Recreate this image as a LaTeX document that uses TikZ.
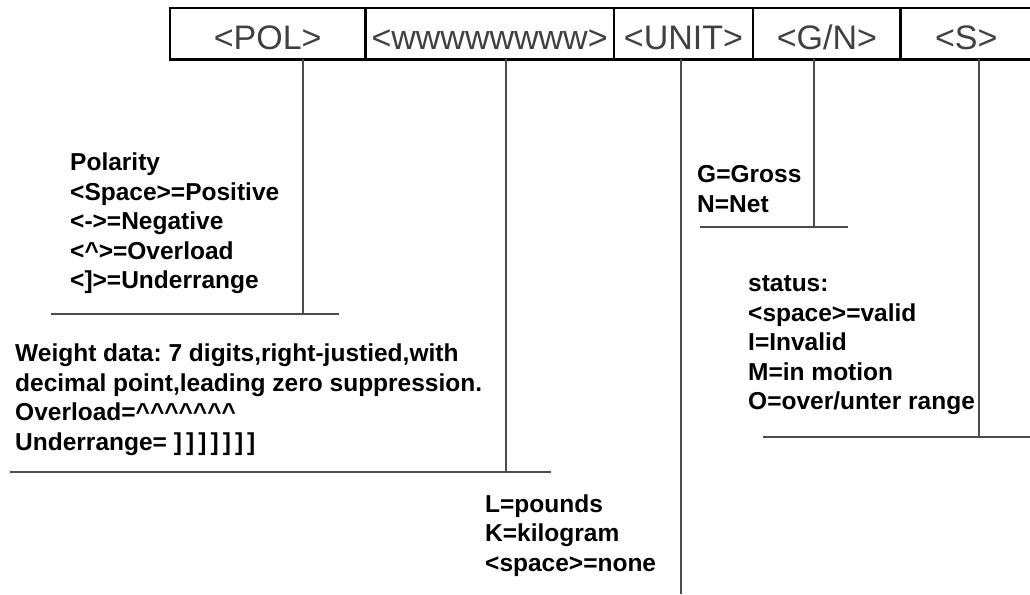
\documentclass[tikz,border=0pt]{standalone}
\usepackage{fontspec}
\setmainfont{Liberation Sans}
\usetikzlibrary{positioning}
\frenchspacing

\begin{document}
\begin{tikzpicture}[
    x=1pt, y=-1pt,
    field/.style={rectangle, inner sep=0pt, minimum height=51pt, text height=32pt, text depth=0pt, text=black!75, font=\fontsize{34}{40}\selectfont},
    note/.style={anchor=north west, inner sep=0pt, align=left, font=\bfseries\fontsize{24.5}{29.5}\selectfont},
    frame/.style={line width=2.5pt, black},
    link/.style={line width=2pt, black!70}
]
\useasboundingbox (0,0) rectangle (1030,594);

% 顶部字段
\node[field, minimum width=195pt, anchor=north west] (pol) at (170,8) {<POL>};
\node[field, minimum width=248pt, right=0pt of pol] (wt) {<wwwwwwww>};
\node[field, minimum width=139pt, right=0pt of wt] (unit) {<UNIT>};
\node[field, minimum width=147pt, right=0pt of unit] (gn) {<G/N>};
\node[field, minimum width=131pt, right=0pt of gn] (st) {<S>};

% 边框
\draw[frame] (st.north east) -- (pol.north west) -- (pol.south west) -- (st.south east);
\foreach \f in {pol, wt, unit, gn}
    \draw[frame] (\f.north east) -- (\f.south east);

% 说明文字
\node[note] (poltxt) at (70,153) {Polarity\\<Space>=Positive\\<->=Negative\\<\textasciicircum>=Overload\\<]>=Underrange};
\node[note] (wttxt) at (15,344) {Weight data: 7 digits,right-justied,with\\decimal point,leading zero suppression.\\Overload=\textasciicircum\textasciicircum\textasciicircum\textasciicircum\textasciicircum\textasciicircum\textasciicircum\\Underrange= ]\,]\,]\,]\,]\,]\,]};
\node[note] (unittxt) at (485,494.5) {L=pounds\\K=kilogram\\<space>=none};
\node[note] (gntxt) at (697,165.5) {G=Gross\\N=Net};
\node[note] (sttxt) at (748,275.5) {status:\\<space>=valid\\I=Invalid\\M=in motion\\O=over/unter range};

% 引线
\coordinate (polend) at (303,314);
\coordinate (wtend) at (506,472);
\coordinate (unitend) at (681,594);
\coordinate (gnend) at (814,227);
\coordinate (stend) at (979,437);
\draw[link] (pol.south -| polend) -- (polend);
\draw[link] (wt.south -| wtend) -- (wtend);
\draw[link] (unit.south -| unitend) -- (unitend);
\draw[link] (gn.south -| gnend) -- (gnend);
\draw[link] (st.south -| stend) -- (stend);

% 横线
\coordinate (polL) at (51,314);
\coordinate (polR) at (339,314);
\coordinate (wtL) at (10,472);
\coordinate (wtR) at (551,472);
\coordinate (gnL) at (700,227);
\coordinate (gnR) at (848,227);
\coordinate (stL) at (763,437);
\coordinate (stR) at (1030,437);
\draw[link] (polL) -- (polR);
\draw[link] (wtL) -- (wtR);
\draw[link] (gnL) -- (gnR);
\draw[link] (stL) -- (stR);

\end{tikzpicture}
\end{document}
